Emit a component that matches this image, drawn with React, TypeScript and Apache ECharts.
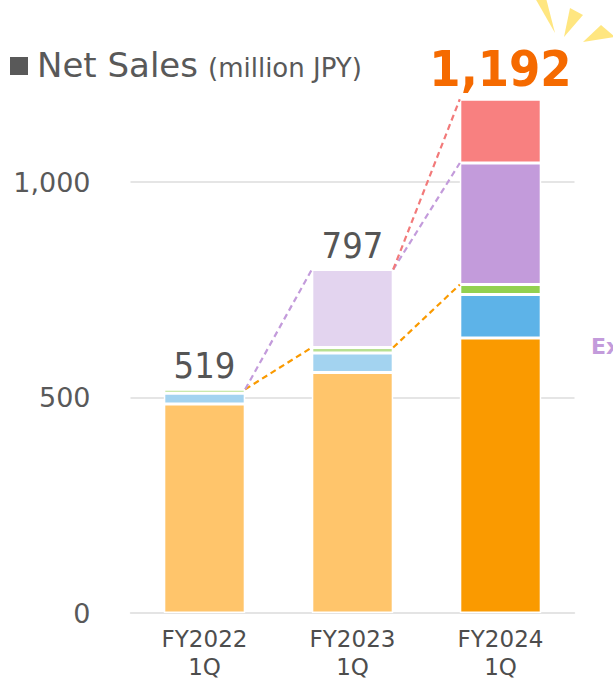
import React, { useEffect, useRef } from "react";
import * as echarts from "echarts";

const categories = ["FY2022\n1Q", "FY2023\n1Q", "FY2024\n1Q"];
const orangeValues = [485, 558, 638];
const blueValues = [25, 45, 101];
const greenValues = [9, 13, 23];
const purpleValues: (number | null)[] = [null, 181, 282];
const pinkValues: (number | null)[] = [null, null, 148];
const totals = [519, 797, 1192];

const lightColors = {
  orange: "#FFC56B",
  blue: "#A3D3F0",
  green: "#B8E092",
  purple: "#E3D4EF",
  pink: "#F9B3B3",
};
const darkColors = {
  orange: "#FA9A00",
  blue: "#5DB3E8",
  green: "#92D050",
  purple: "#C39BDB",
  pink: "#F88080",
};

const HALF = 0.275; // half of bar width in category units (barWidth 55%)

function colored(values: (number | null)[], key: keyof typeof lightColors) {
  return values.map((v, i) => ({
    value: v,
    itemStyle: { color: i === values.length - 1 ? darkColors[key] : lightColors[key] },
  }));
}

function cum(upTo: number, i: number) {
  const layers = [orangeValues, blueValues, greenValues, purpleValues, pinkValues];
  let s = 0;
  for (let k = 0; k <= upTo; k++) s += (layers[k][i] as number) || 0;
  return s;
}

function connector(name: string, color: string, from: number, a: number, b: number) {
  return {
    type: "line",
    name,
    xAxisIndex: 1,
    yAxisIndex: 0,
    symbol: "none",
    showSymbol: false,
    silent: true,
    z: 3,
    lineStyle: { color, width: 2.2, type: [6, 4] },
    data: [
      [from + HALF, a],
      [from + 1 - HALF, b],
    ],
  };
}

export default function App() {
  const ref = useRef<HTMLDivElement>(null);
  useEffect(() => {
    if (!ref.current) return;
    const chart = echarts.init(ref.current, null, { renderer: "svg" });
    const axisFont = "DejaVu Sans";
    const barBase = {
      type: "bar",
      stack: "sales",
      barWidth: "55%",
      xAxisIndex: 0,
      yAxisIndex: 0,
      itemStyle: { borderColor: "#ffffff", borderWidth: 1.5 },
      z: 2,
    };
    chart.setOption({
      animation: false,
      backgroundColor: "#ffffff",
      grid: {
        left: 130.5,
        right: 38.5,
        top: 74.25,
        bottom: 67,
        containLabel: false,
        outerBoundsMode: "none",
      },
      xAxis: [
        {
          type: "category",
          data: categories,
          axisTick: { show: false },
          axisLine: { lineStyle: { color: "#E3E3E3", width: 1.5 } },
          axisLabel: {
            color: "#4D4D4D",
            fontFamily: axisFont,
            fontSize: 23,
            lineHeight: 28,
            margin: 12,
          },
        },
        {
          type: "value",
          min: -0.5,
          max: 2.5,
          show: false,
        },
      ],
      yAxis: {
        type: "value",
        min: 0,
        max: 1250,
        interval: 500,
        axisLine: { show: false },
        axisTick: { show: false },
        axisLabel: {
          color: "#595959",
          fontFamily: axisFont,
          fontSize: 27,
          margin: 40,
          showMaxLabel: false,
          formatter: (v: number) => v.toLocaleString("en-US"),
        },
        splitLine: {
          showMaxLine: false,
          lineStyle: { color: "#DDDDDD", width: 1.5 },
        },
      },
      series: [
        { ...barBase, name: "orange", data: colored(orangeValues, "orange") },
        { ...barBase, name: "blue", data: colored(blueValues, "blue") },
        { ...barBase, name: "green", data: colored(greenValues, "green") },
        { ...barBase, name: "purple", data: colored(purpleValues, "purple") },
        { ...barBase, name: "pink", data: colored(pinkValues, "pink") },
        connector("o1", darkColors.orange, 0, cum(2, 0), cum(2, 1)),
        connector("o2", darkColors.orange, 1, cum(2, 1), cum(2, 2)),
        connector("p1", darkColors.purple, 0, cum(3, 0), cum(3, 1)),
        connector("p2", darkColors.purple, 1, cum(3, 1), cum(3, 2)),
        connector("k1", "#F27A7A", 1, cum(4, 1), cum(4, 2)),
        {
          type: "scatter",
          name: "total",
          xAxisIndex: 0,
          yAxisIndex: 0,
          symbolSize: 0,
          silent: true,
          z: 5,
          itemStyle: { opacity: 1 },
          label: {
            show: true,
            position: "top",
            distance: 6,
            color: "#555555",
            fontFamily: "DejaVu Sans Condensed",
            fontSize: 36,
            formatter: (p: any) => Number(p.value).toLocaleString("en-US"),
          },
          data: totals.map((t, i) =>
            i === totals.length - 1
              ? {
                  value: t,
                  label: {
                    color: "#F56A00",
                    fontWeight: "bold",
                    fontSize: 50,
                    distance: 5,
                    fontFamily: "DejaVu Sans Condensed",
                  },
                }
              : { value: t }
          ),
        },
      ],
      graphic: [
        {
          type: "rect",
          shape: { x: 10, y: 57, width: 18, height: 18 },
          style: { fill: "#595959" },
        },
        {
          type: "text",
          x: 37,
          y: 65,
          style: {
            text: "Net Sales",
            fill: "#595959",
            font: "34px 'DejaVu Sans'",
            verticalAlign: "middle",
          },
        },
        {
          type: "text",
          x: 208,
          y: 67.5,
          style: {
            text: "(million JPY)",
            fill: "#595959",
            font: "26px 'DejaVu Sans'",
            verticalAlign: "middle",
          },
        },
        {
          type: "polygon",
          shape: { points: [[535, -2], [546, -2], [555, 33]] },
          style: { fill: "#FFE680" },
        },
        {
          type: "polygon",
          shape: { points: [[570, 8], [583, 15], [564, 37]] },
          style: { fill: "#FFE680" },
        },
        {
          type: "polygon",
          shape: { points: [[601, 25], [615, 37], [583, 42]] },
          style: { fill: "#FFE680" },
        },
        {
          type: "text",
          x: 591,
          y: 346,
          style: {
            text: "Ex",
            fill: "#C39BDB",
            font: "bold 22px 'DejaVu Sans'",
            verticalAlign: "middle",
          },
        },
      ],
    });
    return () => chart.dispose();
  }, []);
  return (
    <div
      ref={ref}
      style={{ position: "absolute", left: 0, top: 0, width: 613, height: 680 }}
    />
  );
}
